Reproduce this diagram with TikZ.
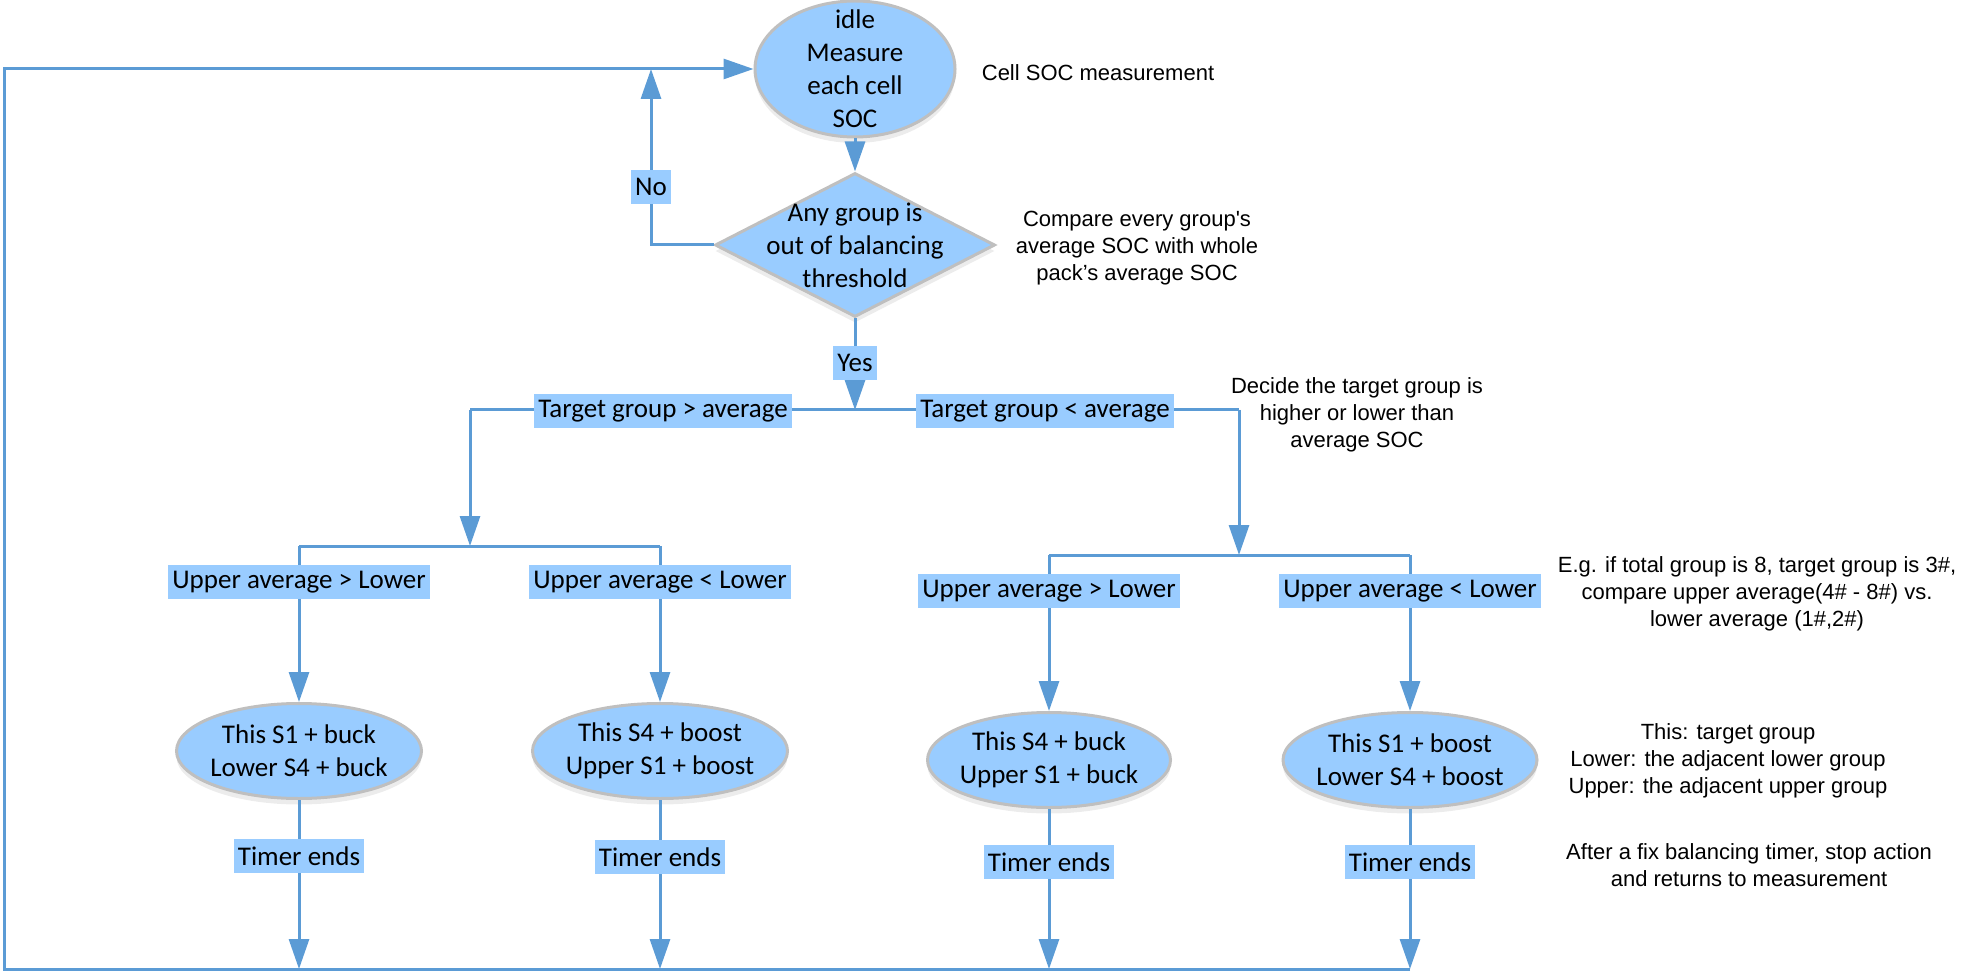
\documentclass[tikz,border=0pt]{standalone}
\usepackage{fontspec}
\setmainfont{Carlito}
\newfontfamily\annfont{Liberation Sans}
\usetikzlibrary{arrows.meta,shapes.geometric,shadows}
\definecolor{fillblue}{HTML}{99CCFF}
\definecolor{lineblue}{HTML}{5B9BD5}
\definecolor{bordergray}{HTML}{BFBFBF}
\begin{document}
\begin{tikzpicture}[x=0.5pt,y=-0.5pt,
  conn/.style={draw=lineblue, line width=1.5pt},
  arr/.style={conn, -{Triangle[length=15pt,width=10pt]}},
  shp/.style={fill=fillblue, draw=bordergray, line width=1.5pt, inner sep=0pt,
     drop shadow={opacity=0.15, shadow xshift=0pt, shadow yshift=-3pt}},
  state/.style={shp, ellipse},
  stxt/.style={align=center, inner sep=0pt, font=\fontsize{13.5}{16.5}\selectfont},
  lbl/.style={fill=fillblue, inner xsep=2pt, inner ysep=0pt, minimum height=17pt,
     font=\fontsize{13.5}{16.5}\selectfont},
  ann/.style={align=center, inner sep=0pt, font=\annfont\fontsize{11}{13.5}\selectfont},
]
\useasboundingbox (0,0) rectangle (1962,972);

% shapes
\node[state, minimum width=100pt, minimum height=68pt] (idle) at (855,69) {};
\node[stxt] (idletxt) at (idle.center) {idle\\Measure\\each cell\\SOC};
\node[shp, diamond, minimum width=140pt, minimum height=72pt] (dia) at (855,245) {};
\node[stxt] (diatxt) at (dia.center) {Any group is\\out of balancing\\threshold};

\node[state, minimum width=122.5pt, minimum height=47.5pt] (e1) at (299,751) {};
\node[stxt] (e1t) at (e1.center) {This S1 + buck\\Lower S4 + buck};
\node[state, minimum width=127.5pt, minimum height=47.5pt] (e2) at (660,751) {};
\node[stxt] (e2t) at (e2.center) {This S4 + boost\\Upper S1 + boost};
\node[state, minimum width=121.5pt, minimum height=47.5pt] (e3) at (1049,760) {};
\node[stxt] (e3t) at (e3.center) {This S4 + buck\\Upper S1 + buck};
\node[state, minimum width=127pt, minimum height=47.5pt] (e4) at (1410,760) {};
\node[stxt] (e4t) at (e4.center) {This S1 + boost\\Lower S4 + boost};

% junction coordinates
\coordinate (nojoin) at (651,69);
\coordinate (split) at (855,410);
\coordinate (jL) at (470,410);
\coordinate (jR) at (1239,410);
\coordinate (bL) at (470,546);
\coordinate (bR) at (1239,555);
\coordinate (b1) at (299,546);
\coordinate (b2) at (660,546);
\coordinate (b3) at (1049,555);
\coordinate (b4) at (1410,555);
\coordinate (f1) at (299,969);
\coordinate (f2) at (660,969);
\coordinate (f3) at (1049,969);
\coordinate (f4) at (1410,969);
\coordinate (retL) at (4,969);

% connectors
\draw[arr] (idle.south) -- (dia.north);
\draw[arr] (dia.west) -| (nojoin);
\draw[arr] (dia.south) -- (split);
\draw[conn] (jL) -- (jR);
\draw[arr] (jL) -- (bL);
\draw[arr] (jR) -- (bR);
\draw[conn] (b1) -- (b2);
\draw[conn] (b3) -- (b4);
\draw[arr] (b1) -- (e1.north);
\draw[arr] (b2) -- (e2.north);
\draw[arr] (b3) -- (e3.north);
\draw[arr] (b4) -- (e4.north);
\draw[arr] (e1.south) -- (f1);
\draw[arr] (e2.south) -- (f2);
\draw[arr] (e3.south) -- (f3);
\draw[arr] (e4.south) -- (f4);
\draw[arr] (f4) -- (retL) |- (idle.west);

% labels on connectors
\node[lbl] (no) at (651,187) {No};
\node[lbl] (yes) at (855,363) {Yes};
\node[lbl] (tgt1) at (663,411) {Target group > average};
\node[lbl] (tgt2) at (1045,411) {Target group < average};
\node[lbl] (u1) at (299,582) {Upper average > Lower};
\node[lbl] (u2) at (660,582) {Upper average < Lower};
\node[lbl] (u3) at (1049,591) {Upper average > Lower};
\node[lbl] (u4) at (1410,591) {Upper average < Lower};
\node[lbl] (t1) at (299,856) {Timer ends};
\node[lbl] (t2) at (660,857) {Timer ends};
\node[lbl] (t3) at (1049,862) {Timer ends};
\node[lbl] (t4) at (1410,862) {Timer ends};

% annotations
\node[ann] (a1) at (1098,73) {Cell SOC measurement};
\node[ann] (a2) at (1137,248) {Compare every group's\\average SOC with whole\\pack’s average SOC};
\node[ann] (a3) at (1357,415) {Decide the target group is\\higher or lower than\\average SOC};
\node[ann] (a4) at (1757,594) {E.g. if total group is 8, target group is 3\#,\\compare upper average(4\# - 8\#) vs.\\lower average (1\#,2\#)};
\node[ann] (a5) at (1728,761) {This: target group\\Lower: the adjacent lower group\\Upper: the adjacent upper group};
\node[ann] (a6) at (1749,865) {After a fix balancing timer, stop action\\and returns to measurement};
\end{tikzpicture}
\end{document}
